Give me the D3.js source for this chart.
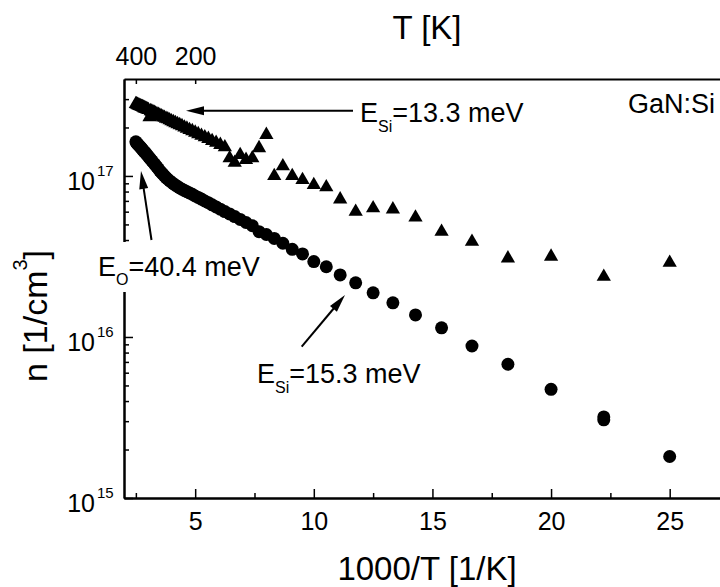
<!DOCTYPE html>
<html>
<head>
<meta charset="utf-8">
<script src="https://cdn.jsdelivr.net/npm/d3@7"></script>
<style>
    body { margin: 0; background: #fff; }
    svg { display: block; font-family: "Liberation Sans", Arial, sans-serif; }
    .axis path { stroke: #000; stroke-width: 2; }
    .axis line { stroke: #000; stroke-width: 1.5; }
    .axis text { font-family: "Liberation Sans", Arial, sans-serif; font-size: 25px; fill: #000; }
    .label { fill: #000; }
</style>
</head>
<body>
<div id="chart"></div>
<script>
// circles: temperature [K] and carrier concentration n [1/cm^3]
var circleT = [400, 395, 390, 385, 380, 375, 370, 365, 360, 355, 350, 345, 340, 335, 330, 325, 320, 315,
    310, 305, 300, 295, 290, 285, 280, 275, 270, 265, 260, 255, 250, 245, 240, 235, 230, 225, 220, 215,
    210, 205, 200, 195, 190, 185, 180, 175, 170, 165, 160, 155, 150, 145, 140, 135,
    130, 125, 120, 115, 110, 105, 100, 95, 90, 85, 80, 75, 70, 65, 60, 55, 50, 45, 45, 40];
var circleN = [1.63e17, 1.60e17, 1.585e17, 1.565e17, 1.545e17, 1.525e17, 1.503e17, 1.482e17, 1.459e17,
    1.438e17, 1.411e17, 1.393e17, 1.369e17, 1.344e17, 1.320e17, 1.293e17, 1.268e17, 1.243e17,
    1.216e17, 1.191e17, 1.162e17, 1.136e17, 1.108e17, 1.074e17, 1.051e17, 1.025e17, 1.000e17, 9.76e16,
    9.54e16, 9.34e16, 9.14e16, 8.95e16, 8.77e16, 8.61e16, 8.43e16, 8.28e16, 8.13e16, 7.99e16,
    7.84e16, 7.70e16, 7.51e16, 7.36e16, 7.18e16, 6.99e16, 6.82e16, 6.62e16, 6.42e16, 6.22e16,
    6.01e16, 5.81e16, 5.59e16, 5.37e16, 5.14e16, 4.91e16,
    4.51e16, 4.33e16, 4.09e16, 3.82e16, 3.50e16, 3.28e16, 2.94e16, 2.73e16, 2.43e16, 2.17e16,
    1.88e16, 1.63e16, 1.37e16, 1.14e16, 8.79e15, 6.77e15, 4.73e15, 3.19e15, 3.06e15, 1.81e15];

// triangles: temperature [K] and n [1/cm^3]
var triangleT = [400, 395, 390, 385, 380, 375, 370, 365, 360, 355, 350, 345, 340, 335, 330, 325, 320, 315,
    310, 305, 300, 295, 290, 285, 280, 275, 270, 265, 260, 255, 250, 245, 240, 235, 230, 225, 220, 215,
    210, 205, 200, 195, 190, 185, 180, 175, 170, 165, 160,
    155, 150, 145, 140, 135, 130, 125, 120, 115, 110, 105, 100, 95, 90, 85, 80, 75, 70, 65, 60, 55, 50, 45, 40];
var triangleN = [2.80e17, 2.79e17, 2.77e17, 2.75e17, 2.74e17, 2.72e17, 2.71e17, 2.69e17, 2.68e17,
    2.66e17, 2.64e17, 2.62e17, 2.61e17, 2.59e17, 2.57e17, 2.32e17, 2.53e17, 2.51e17,
    2.49e17, 2.47e17, 2.44e17, 2.42e17, 2.40e17, 2.37e17, 2.35e17, 2.32e17, 2.30e17, 2.27e17,
    2.25e17, 2.22e17, 2.19e17, 2.16e17, 2.13e17, 2.10e17, 2.07e17, 2.04e17, 2.00e17, 1.97e17,
    1.93e17, 1.90e17, 1.86e17, 1.82e17, 1.78e17, 1.74e17, 1.70e17, 1.65e17, 1.61e17, 1.56e17, 1.51e17,
    1.29e17, 1.21e17, 1.35e17, 1.26e17, 1.29e17, 1.49e17, 1.80e17, 1.00e17, 1.15e17, 1.00e17,
    9.44e16, 8.79e16, 8.51e16, 7.16e16, 6.00e16, 6.30e16, 6.21e16, 5.53e16, 4.51e16, 3.91e16,
    3.08e16, 3.16e16, 2.37e16, 2.89e16];

// tick values
var xMajorTicks = [5, 10, 15, 20, 25];
var xMinorTicks = [2.5, 7.5, 12.5, 17.5, 22.5, 27.5];
var topTicksK = [400, 200];
var yMajorTicks = [1e15, 1e16, 1e17];
var yMinorTicks = [2e15, 3e15, 4e15, 5e15, 6e15, 7e15, 8e15, 9e15,
    2e16, 3e16, 4e16, 5e16, 6e16, 7e16, 8e16, 9e16, 2e17, 3e17];

/*
 * ArrheniusPlot - n vs 1000/T on a log axis
 */
ArrheniusPlot = function(_parentElement, _circles, _triangles) {
    this.parentElement = _parentElement;
    this.circles = _circles;
    this.triangles = _triangles;

    this.initVis();
};

ArrheniusPlot.prototype.initVis = function() {
    var vis = this;

    vis.margin = { top: 79, right: -9, bottom: 89, left: 124 };
    vis.width = 720 - vis.margin.left - vis.margin.right;
    vis.height = 587 - vis.margin.top - vis.margin.bottom;

    vis.root = d3.select("#" + vis.parentElement).append("svg")
        .attr("width", 720)
        .attr("height", 587);

    vis.svg = vis.root.append("g")
        .attr("transform", "translate(" + vis.margin.left + "," + vis.margin.top + ")");

    // Scales
    vis.x = d3.scaleLinear().domain([2, 27.5]).range([0, vis.width]);
    vis.y = d3.scaleLog().domain([1e15, 4e17]).range([vis.height, 0]);

    vis.wrangleData();
};

ArrheniusPlot.prototype.wrangleData = function() {
    var vis = this;

    vis.circleData = vis.circles.T.map(function(t, i) {
        return { x: 1000 / t, n: vis.circles.N[i] };
    });
    vis.triangleData = vis.triangles.T.map(function(t, i) {
        return { x: 1000 / t, n: vis.triangles.N[i] };
    });

    vis.updateVis();
};

ArrheniusPlot.prototype.updateVis = function() {
    var vis = this;

    // bottom axis: major + minor ticks, pointing inwards
    vis.svg.append("g")
        .attr("class", "axis")
        .attr("transform", "translate(0," + vis.height + ")")
        .call(d3.axisBottom(vis.x).tickValues(xMajorTicks).tickSizeInner(-9).tickSizeOuter(0)
            .tickPadding(14).tickFormat(d3.format("d")));
    vis.svg.append("g")
        .attr("class", "axis")
        .attr("transform", "translate(0," + vis.height + ")")
        .call(d3.axisBottom(vis.x).tickValues(xMinorTicks).tickSizeInner(-5).tickSizeOuter(0)
            .tickFormat(""));

    // top axis in temperature
    vis.svg.append("g")
        .attr("class", "axis")
        .call(d3.axisTop(vis.x).tickValues(topTicksK.map(function(t) { return 1000 / t; }))
            .tickSizeInner(-5).tickSizeOuter(0).tickPadding(14)
            .tickFormat(function(d) { return Math.round(1000 / d); }));

    // left axis
    vis.svg.append("g")
        .attr("class", "axis")
        .call(d3.axisLeft(vis.y).tickValues(yMajorTicks).tickSizeInner(-9).tickSizeOuter(0).tickFormat(""));
    vis.svg.append("g")
        .attr("class", "axis")
        .call(d3.axisLeft(vis.y).tickValues(yMinorTicks).tickSizeInner(-5).tickSizeOuter(0).tickFormat(""));

    // y tick labels 10^x
    var yLab = vis.svg.append("g").attr("class", "label");
    yLab.selectAll(".base").data(yMajorTicks).enter().append("text")
        .attr("x", -29)
        .attr("y", function(d) { return vis.y(d) + 14; })
        .attr("text-anchor", "end")
        .style("font-size", "25px")
        .text("10");
    yLab.selectAll(".exp").data(yMajorTicks).enter().append("text")
        .attr("x", -27)
        .attr("y", function(d) { return vis.y(d); })
        .style("font-size", "15px")
        .text(function(d) { return Math.round(Math.log10(d)); });

    // axis titles
    vis.root.append("text")
        .attr("class", "label")
        .attr("x", 427).attr("y", 580)
        .attr("text-anchor", "middle")
        .style("font-size", "33px")
        .text("1000/T [1/K]");

    vis.root.append("text")
        .attr("class", "label")
        .attr("x", 427).attr("y", 39)
        .attr("text-anchor", "middle")
        .style("font-size", "33px")
        .text("T [K]");

    var yTitle = vis.root.append("text")
        .attr("class", "label")
        .attr("transform", "translate(47,316) rotate(-90)")
        .attr("text-anchor", "middle")
        .style("font-size", "34px");
    yTitle.append("tspan").text("n [1/cm");
    yTitle.append("tspan").attr("dy", -20).style("font-size", "20px").text("3");
    yTitle.append("tspan").attr("dy", 20).text("]");

    // data points
    vis.svg.selectAll(".tri").data(vis.triangleData).enter().append("path")
        .attr("class", "tri")
        .attr("d", d3.symbol().type(d3.symbolTriangle).size(88))
        .attr("transform", function(d) { return "translate(" + vis.x(d.x) + "," + vis.y(d.n) + ")"; })
        .attr("fill", "#000");

    vis.svg.selectAll(".dot").data(vis.circleData).enter().append("circle")
        .attr("class", "dot")
        .attr("cx", function(d) { return vis.x(d.x); })
        .attr("cy", function(d) { return vis.y(d.n); })
        .attr("r", 6.5)
        .attr("fill", "#000");

    // annotations
    vis.drawArrow(353, 110.7, 186, 110.7);
    vis.drawArrow(151.5, 240, 141, 171);
    vis.drawArrow(301.7, 346.7, 345, 295);

    // white box for E_O label cuts the left axis
    vis.root.append("rect")
        .attr("x", 95).attr("y", 242)
        .attr("width", 166).attr("height", 50)
        .attr("fill", "#fff");

    vis.subLabel(360, 122, "Si", "=13.3 meV", 10);
    vis.subLabel(98, 276, "O", "=40.4 meV", 9);
    vis.subLabel(257, 383, "Si", "=15.3 meV", 10);

    vis.root.append("text")
        .attr("class", "label")
        .attr("x", 628).attr("y", 113)
        .style("font-size", "27px")
        .text("GaN:Si");
};

ArrheniusPlot.prototype.subLabel = function(x, y, sub, rest, shift) {
    var vis = this;
    var t = vis.root.append("text")
        .attr("class", "label")
        .attr("x", x).attr("y", y)
        .style("font-size", "27px");
    t.append("tspan").text("E");
    t.append("tspan").attr("dy", shift).style("font-size", "16px").text(sub);
    t.append("tspan").attr("dy", -shift).text(rest);
};

ArrheniusPlot.prototype.drawArrow = function(x1, y1, x2, y2) {
    var vis = this;
    var len = 18, half = 4.5;
    var dx = x2 - x1, dy = y2 - y1;
    var d = Math.sqrt(dx * dx + dy * dy);
    var ux = dx / d, uy = dy / d;
    var bx = x2 - ux * len, by = y2 - uy * len;

    vis.root.append("line")
        .attr("x1", x1).attr("y1", y1)
        .attr("x2", bx + ux * 2).attr("y2", by + uy * 2)
        .attr("stroke", "#000")
        .attr("stroke-width", 2);

    vis.root.append("path")
        .attr("d", "M" + x2 + "," + y2 +
            "L" + (bx - uy * half) + "," + (by + ux * half) +
            "L" + (bx + uy * half) + "," + (by - ux * half) + "Z")
        .attr("fill", "#000");
};

var plot = new ArrheniusPlot("chart",
    { T: circleT, N: circleN },
    { T: triangleT, N: triangleN });
</script>
</body>
</html>
